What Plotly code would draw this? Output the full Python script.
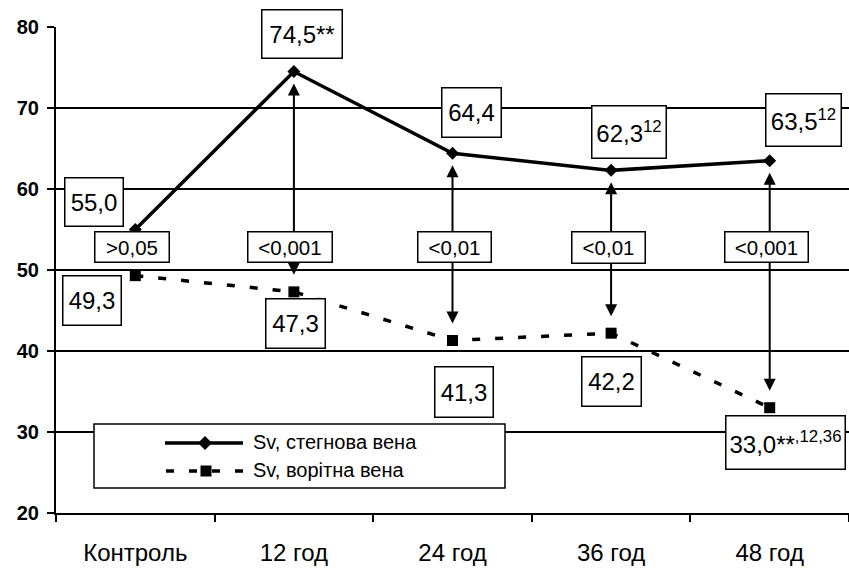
import plotly.graph_objects as go

# ---------------- data ----------------
categories = ["Контроль", "12 год", "24 год", "36 год", "48 год"]
femoral = [55.0, 74.5, 64.4, 62.3, 63.5]          # Sv, стегнова вена
portal = [49.3, 47.3, 41.3, 42.2, 33.0]           # Sv, ворітна вена
femoral_marks = ["", "**", "", "<sup>12</sup>", "<sup>12</sup>"]
portal_marks = ["", "", "", "", "**<sup>,12,36</sup>"]
p_values = [">0,05", "<0,001", "<0,01", "<0,01", "<0,001"]
p_arrows = [False, True, True, True, True]
y_ticks = [20, 30, 40, 50, 60, 70, 80]
series_names = ["Sv, стегнова вена", "Sv, ворітна вена"]

# ---------------- layout / style ----------------
W, H = 849, 568
ML, MR, MT, MB = 56, 0, 27, 55
FONT = "Liberation Sans, Arial, sans-serif"

# label placement (pixel offsets from the point) and box sizes
fem_off = [(-41.5, -27.5), (8, -37.5), (19, -41), (18, -38), (34, -40.6)]
fem_box = [(58, 48), (80, 48), (59, 49), (74, 52), (75, 52)]
por_off = [(-43.5, 25), (2, 32), (11, 51.5), (0, 48), (16, 35)]
por_box = [(58, 49), (59, 49), (58, 50), (59, 49), (119, 53)]
p_level = 52.8
p_dx = [-3.5, -4, 1.5, -2.5, -3.5]
p_box = [(74, 30), (84, 30), (73, 30), (73, 31), (83, 30)]


def fmt(v):
    return f"{v:.1f}".replace(".", ",")


fig = go.Figure()
fig.add_trace(go.Scatter(
    x=categories, y=femoral, mode="lines+markers", name=series_names[0],
    line=dict(color="black", width=3.5),
    marker=dict(symbol="diamond", size=10, color="black"),
    showlegend=False,
))
fig.add_trace(go.Scatter(
    x=categories, y=portal, mode="lines+markers", name=series_names[1],
    line=dict(color="black", width=3.5, dash="8px,15px"),
    marker=dict(symbol="square", size=11, color="black"),
    showlegend=False,
))

ann = []
# double arrows (drawn first so boxes cover their tails)
for i, show in enumerate(p_arrows):
    if not show:
        continue
    for target, so in ((femoral[i], 12), (portal[i], 17)):
        ann.append(dict(
            x=i, y=target, ax=i, ay=p_level, xref="x", yref="y",
            axref="x", ayref="y", text="", showarrow=True,
            arrowhead=2, arrowsize=1.2, arrowwidth=2, arrowcolor="black",
            standoff=so,
        ))


def box(x, y, text, dx, dy, size, fsize):
    return dict(
        x=x, y=y, xref="x", yref="y", text=text, showarrow=False,
        xshift=dx, yshift=-dy, width=size[0] - 5, height=size[1] - 5,
        align="center", valign="middle",
        font=dict(family=FONT, size=fsize, color="black"),
        bgcolor="white", bordercolor="black", borderwidth=1.5, borderpad=2,
    )


for i in range(len(categories)):
    ann.append(box(i, femoral[i], fmt(femoral[i]) + femoral_marks[i],
                   fem_off[i][0], fem_off[i][1], fem_box[i], 24))
    ann.append(box(i, portal[i], fmt(portal[i]) + portal_marks[i],
                   por_off[i][0], por_off[i][1], por_box[i], 24))
    ann.append(box(i, p_level, p_values[i], p_dx[i], 0, p_box[i], 20.5))

# ---------------- manual legend ----------------
PW = W - ML - MR
PH = H - MT - MB


def px(xp):
    return (xp - ML) / PW


def py(yp):
    return (H - MB - yp) / PH


shapes = [
    dict(type="rect", xref="paper", yref="paper", x0=px(94), x1=px(505),
         y0=py(488), y1=py(424), fillcolor="white",
         line=dict(color="black", width=1.5), layer="above"),
    dict(type="line", xref="paper", yref="paper", x0=px(165), x1=px(243),
         y0=py(443), y1=py(443), line=dict(color="black", width=3.5),
         layer="above"),
    dict(type="line", xref="paper", yref="paper", x0=px(166), x1=px(247),
         y0=py(471), y1=py(471),
         line=dict(color="black", width=3.5, dash="8px,15px"), layer="above"),
]
cx, cy, r = 205, 443, 7
shapes.append(dict(
    type="path", xref="paper", yref="paper", layer="above",
    path=(f"M {px(cx - r)},{py(cy)} L {px(cx)},{py(cy - r)} "
          f"L {px(cx + r)},{py(cy)} L {px(cx)},{py(cy + r)} Z"),
    fillcolor="black", line=dict(color="black", width=0),
))
sx, sy, s = 206, 471, 5.5
shapes.append(dict(
    type="rect", xref="paper", yref="paper", layer="above",
    x0=px(sx - s), x1=px(sx + s), y0=py(sy + s), y1=py(sy - s),
    fillcolor="black", line=dict(color="black", width=0),
))
for name, yy in zip(series_names, (442, 470)):
    ann.append(dict(
        x=px(251), y=py(yy), xref="paper", yref="paper", text=name,
        showarrow=False, xanchor="left", yanchor="middle",
        font=dict(family=FONT, size=20, color="black"),
    ))

fig.update_layout(
    width=W, height=H,
    margin=dict(l=ML, r=MR, t=MT, b=MB),
    paper_bgcolor="white", plot_bgcolor="white",
    annotations=ann, shapes=shapes,
    showlegend=False,
    font=dict(family=FONT, color="black"),
)
fig.update_xaxes(
    type="category", range=[-0.5, 4.5], showgrid=False,
    showline=True, linecolor="black", linewidth=2,
    ticks="outside", tickson="boundaries", ticklen=7, tickwidth=1.5,
    tickcolor="black", ticklabelstandoff=17,
    tickfont=dict(family=FONT, size=24, color="black"),
)
fig.update_yaxes(
    range=[20, 80], tickvals=y_ticks, showgrid=True, gridcolor="black",
    gridwidth=1.5, showline=True, linecolor="black", linewidth=2,
    ticks="outside", ticklen=7, tickwidth=1.5, tickcolor="black",
    zeroline=False, ticklabelstandoff=4,
    tickfont=dict(family=FONT, size=20, color="black", weight="bold"),
)

fig.write_html("out.html")
